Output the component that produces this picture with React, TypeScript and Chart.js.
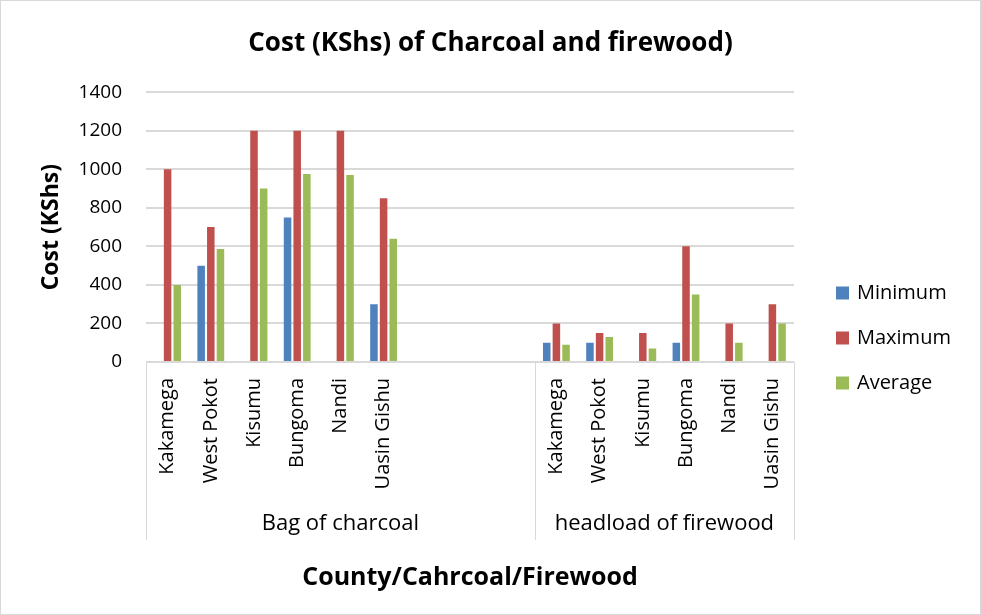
import React, { useEffect, useRef } from 'react';
import { Chart, registerables } from 'chart.js';

Chart.register(...registerables);

const counties = ['Kakamega', 'West Pokot', 'Kisumu', 'Bungoma', 'Nandi', 'Uasin Gishu'];
const groupNames = ['Bag of charcoal', 'headload of firewood'];
const blankSlots = 3;

const seriesNames = ['Minimum', 'Maximum', 'Average'];
const seriesColors = ['#4F81BD', '#C0504D', '#9BBB59'];

const charcoalMin = [null, 500, null, 750, null, 300];
const charcoalMax = [1000, 700, 1200, 1200, 1200, 850];
const charcoalAvg = [400, 587, 900, 975, 970, 640];

const firewoodMin = [100, 100, null, 100, null, null];
const firewoodMax = [200, 150, 150, 600, 200, 300];
const firewoodAvg = [90, 130, 70, 350, 100, 200];

const yTicks = [0, 200, 400, 600, 800, 1000, 1200, 1400];

const FONT = "'Open Sans', sans-serif";

const blanks = Array(blankSlots).fill(null);
const labels = [...counties, ...Array(blankSlots).fill(''), ...counties];
const combine = (a: (number | null)[], b: (number | null)[]) => [...a, ...blanks, ...b];
const seriesData = [
  combine(charcoalMin, firewoodMin),
  combine(charcoalMax, firewoodMax),
  combine(charcoalAvg, firewoodAvg),
];
const groupSizes = [counties.length + blankSlots, counties.length];

const decorPlugin = {
  id: 'decor',
  afterDraw(chart: any) {
    const { ctx, chartArea, scales } = chart;
    const x = scales.x;
    ctx.save();
    // outer border
    ctx.strokeStyle = '#d9d9d9';
    ctx.lineWidth = 1;
    ctx.strokeRect(0.5, 0.5, chart.width - 1, chart.height - 1);

    // group separators & labels
    const lineBottom = chartArea.bottom + 178;
    const labelY = chartArea.bottom + 162;
    const edges: number[] = [x.left];
    let idx = 0;
    groupSizes.forEach((n, gi) => {
      idx += n;
      if (gi < groupSizes.length - 1) {
        edges.push((x.getPixelForValue(idx - 1) + x.getPixelForValue(idx)) / 2);
      } else {
        edges.push(x.right);
      }
    });
    ctx.strokeStyle = '#d9d9d9';
    ctx.lineWidth = 1;
    edges.forEach((ex) => {
      const px = Math.round(ex) + 0.5;
      ctx.beginPath();
      ctx.moveTo(px, chartArea.bottom);
      ctx.lineTo(px, lineBottom);
      ctx.stroke();
    });
    ctx.fillStyle = '#000';
    ctx.font = `22px ${FONT}`;
    ctx.textAlign = 'center';
    ctx.textBaseline = 'middle';
    groupNames.forEach((g, i) => {
      ctx.fillText(g, (edges[i] + edges[i + 1]) / 2, labelY);
    });

    // legend
    const lx = chartArea.right + 42;
    const midY = chart.height / 2 + 30;
    const step = 45;
    ctx.textAlign = 'left';
    chart.data.datasets.forEach((ds: any, i: number) => {
      const cy = midY + (i - 1) * step;
      ctx.fillStyle = ds.backgroundColor;
      ctx.fillRect(lx, cy - 6, 13, 13);
      ctx.fillStyle = '#000';
      ctx.font = `20px ${FONT}`;
      ctx.fillText(ds.label, lx + 21, cy + 1);
    });
    ctx.restore();
  },
};

export default function App() {
  const ref = useRef<HTMLCanvasElement | null>(null);
  useEffect(() => {
    if (!ref.current) return;
    const chart = new Chart(ref.current, {
      type: 'bar',
      data: {
        labels,
        datasets: seriesNames.map((name, i) => ({
          label: name,
          data: seriesData[i],
          backgroundColor: seriesColors[i],
          borderWidth: 0,
          categoryPercentage: 0.67,
          barPercentage: 0.78,
        })),
      },
      options: {
        animation: false,
        responsive: false,
        devicePixelRatio: 1,
        layout: { padding: 0 },
        plugins: {
          legend: { display: false },
          tooltip: { enabled: false },
          title: {
            display: true,
            text: 'Cost (KShs) of Charcoal and firewood)',
            color: '#000',
            font: { family: FONT, size: 26, weight: 'bold' },
            padding: { top: 28, bottom: 33 },
          },
        },
        scales: {
          x: {
            grid: { display: false, drawTicks: false },
            border: { display: true, color: '#d9d9d9', width: 1 },
            ticks: {
              autoSkip: false,
              minRotation: 90,
              maxRotation: 90,
              padding: 16,
              color: '#000',
              font: { family: FONT, size: 20 },
            },
            title: {
              display: true,
              text: 'County/Cahrcoal/Firewood',
              color: '#000',
              font: { family: FONT, size: 25, weight: 'bold' },
              padding: { top: 0, bottom: 22 },
            },
            afterFit: (s: any) => {
              s.height = 253;
            },
          },
          y: {
            min: 0,
            max: 1400,
            afterBuildTicks: (s: any) => {
              s.ticks = yTicks.map((v) => ({ value: v }));
            },
            grid: { color: '#d9d9d9', lineWidth: 2, drawTicks: false },
            border: { display: false },
            ticks: {
              padding: 24,
              color: '#000',
              font: { family: FONT, size: 19 },
              callback: (v: any) => String(v),
            },
            title: {
              display: true,
              text: 'Cost (KShs)',
              color: '#000',
              font: { family: FONT, size: 23, weight: 'bold' },
              padding: { top: 38, bottom: 0 },
            },
            afterFit: (s: any) => {
              s.width = 146;
            },
          },
          legendSpace: {
            type: 'linear',
            position: 'right',
            display: true,
            grid: { display: false, drawTicks: false },
            border: { display: false },
            ticks: { display: false },
            afterFit: (s: any) => {
              s.width = 187;
            },
          },
        },
      },
      plugins: [decorPlugin],
    });
    return () => chart.destroy();
  }, []);
  return (
    <div style={{ position: 'absolute', left: 0, top: 0, width: 981, height: 615, background: '#fff' }}>
      <canvas ref={ref} width={981} height={615} style={{ display: 'block' }} />
    </div>
  );
}
